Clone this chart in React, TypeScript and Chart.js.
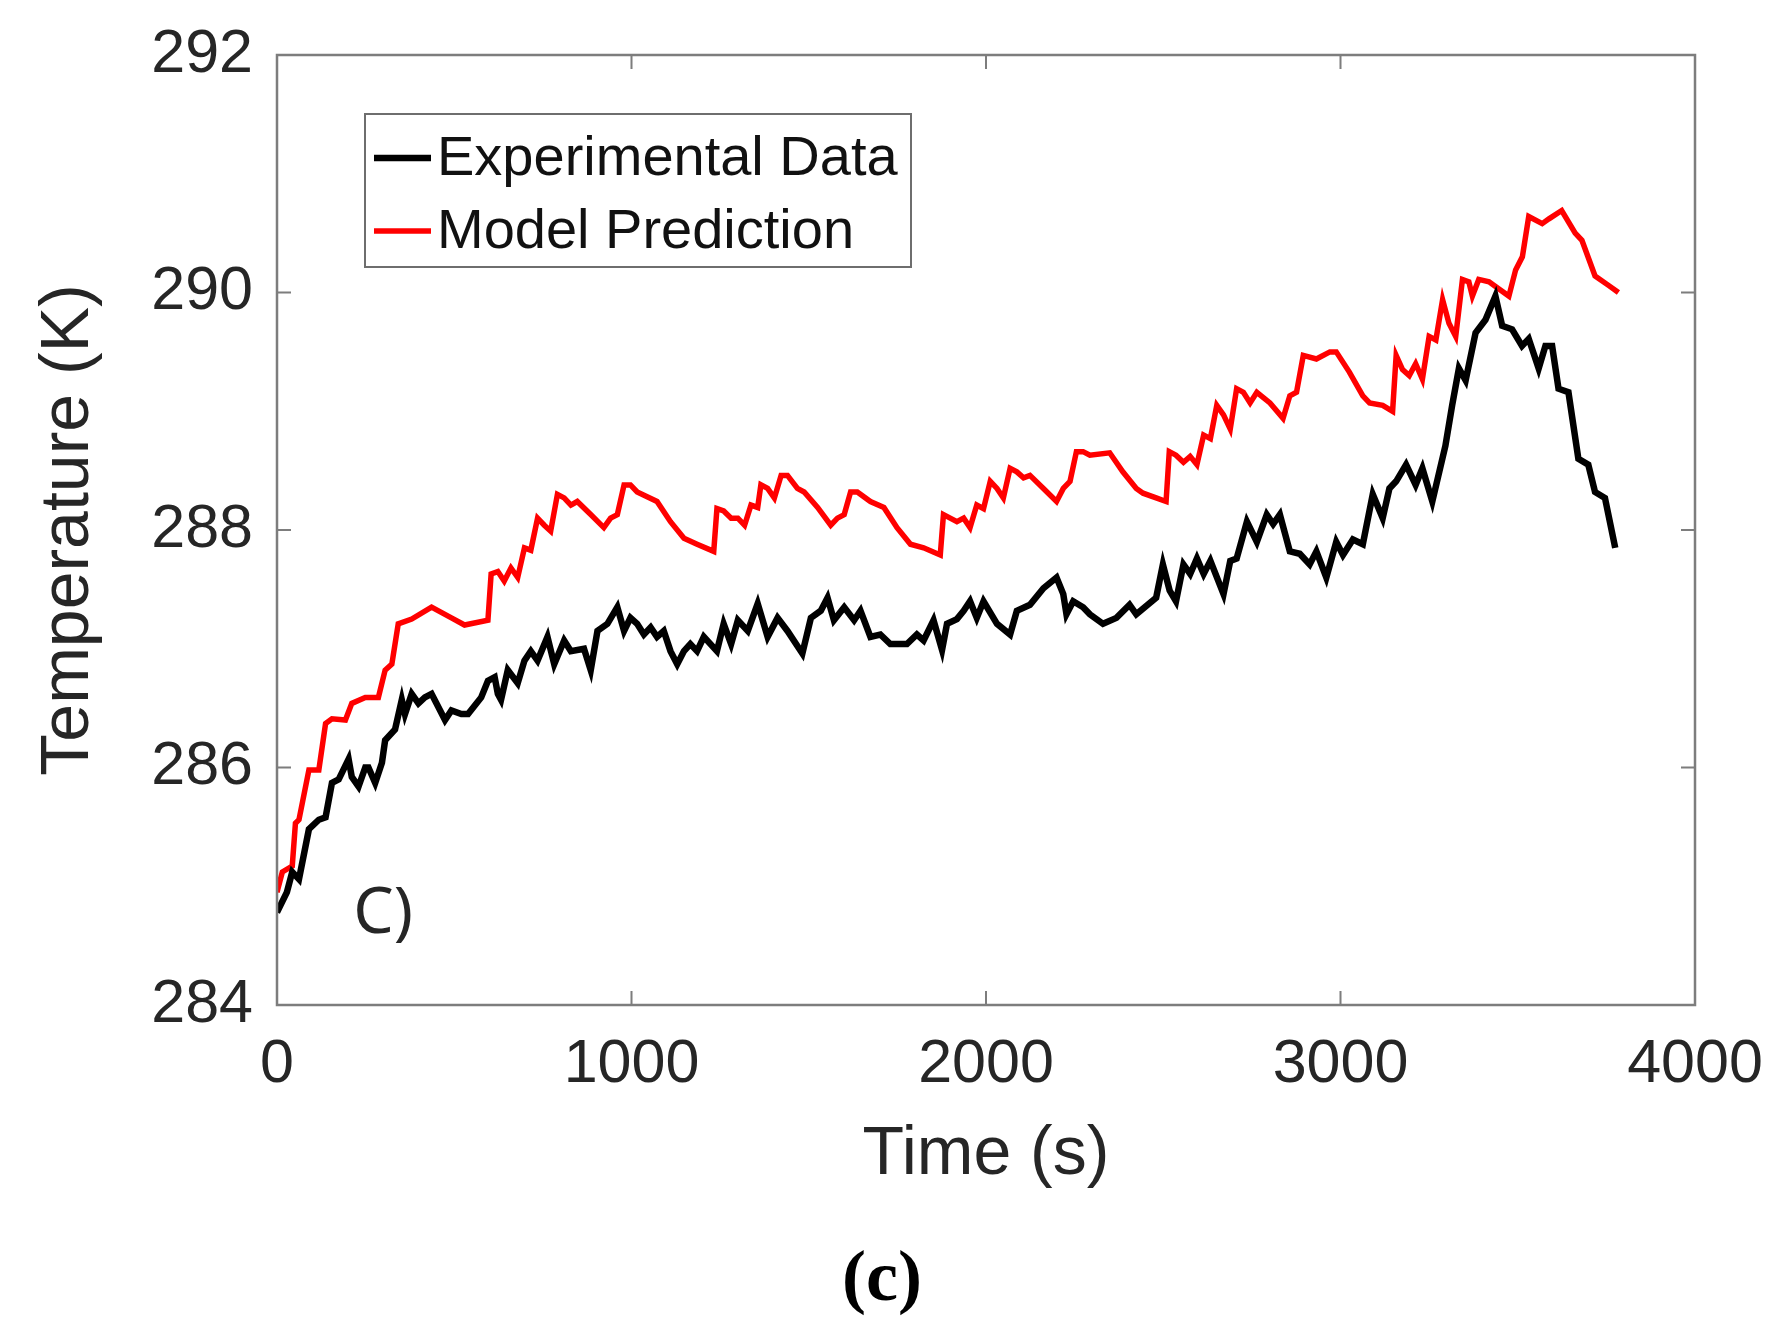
import { useEffect, useRef } from 'react';
import { Chart, registerables } from 'chart.js';

Chart.register(...registerables);

// Experimental Data (black)
const expTime = [
  0, 28, 43, 62, 90, 118, 137, 155, 174, 202,
  211, 230, 249, 258, 277, 296, 305, 333, 352, 361,
  380, 399, 417, 436, 474, 492, 520, 539, 576, 595,
  614, 623, 632, 651, 679, 698, 716, 735, 763, 782,
  810, 829, 866, 885, 904, 932, 960, 979, 997, 1016,
  1035, 1054, 1072, 1091, 1110, 1129, 1148, 1166, 1185, 1204,
  1241, 1260, 1281, 1300, 1328, 1356, 1384, 1412, 1440, 1482,
  1506, 1534, 1553, 1571, 1600, 1628, 1646, 1674, 1702, 1730,
  1777, 1805, 1824, 1852, 1876, 1890, 1918, 1937, 1955, 1974,
  1993, 2031, 2068, 2087, 2124, 2162, 2199, 2218, 2227, 2246,
  2274, 2293, 2330, 2368, 2405, 2424, 2480, 2499, 2518, 2536,
  2557, 2576, 2595, 2614, 2633, 2670, 2689, 2707, 2736, 2764,
  2792, 2810, 2829, 2857, 2885, 2913, 2932, 2960, 2988, 3007,
  3035, 3063, 3091, 3119, 3138, 3157, 3185, 3212, 3231, 3259,
  3296, 3315, 3334, 3353, 3381, 3409, 3437, 3456, 3484, 3512,
  3531, 3559, 3578, 3597, 3615, 3643, 3671, 3699, 3718, 3746, 3775,
];
const expTemp = [
  284.78, 284.95, 285.12, 285.06, 285.48, 285.56, 285.58, 285.87, 285.9, 286.07,
  285.92, 285.84, 286.0, 286.0, 285.87, 286.04, 286.23, 286.32, 286.57, 286.45,
  286.62, 286.54, 286.59, 286.62, 286.4, 286.48, 286.45, 286.45, 286.59, 286.73,
  286.76, 286.62, 286.57, 286.82, 286.71, 286.9, 286.98, 286.9, 287.1, 286.87,
  287.07, 286.98, 287.0, 286.82, 287.15, 287.21, 287.35, 287.15, 287.26, 287.21,
  287.12, 287.18, 287.1, 287.15, 286.98, 286.87, 286.98, 287.04, 286.98, 287.1,
  286.98, 287.21, 287.04, 287.24, 287.15, 287.38, 287.1, 287.26, 287.15, 286.96,
  287.26, 287.32, 287.43, 287.24, 287.35, 287.24, 287.32, 287.1, 287.12, 287.04,
  287.04, 287.12, 287.07, 287.24, 286.99, 287.21, 287.25, 287.32, 287.4, 287.26,
  287.4, 287.21, 287.12, 287.32, 287.37, 287.51, 287.6, 287.46, 287.29, 287.4,
  287.35, 287.29, 287.21, 287.26, 287.37, 287.29, 287.43, 287.71, 287.49, 287.4,
  287.71, 287.63, 287.76, 287.63, 287.74, 287.46, 287.74, 287.76, 288.07, 287.9,
  288.13, 288.05, 288.13, 287.82, 287.8, 287.71, 287.82, 287.6, 287.9, 287.79,
  287.92, 287.88, 288.3, 288.1, 288.35, 288.41, 288.55, 288.38, 288.52, 288.24,
  288.71, 289.05, 289.36, 289.26, 289.66, 289.77, 289.97, 289.72, 289.69, 289.55,
  289.61, 289.36, 289.55, 289.55, 289.19, 289.16, 288.6, 288.55, 288.32, 288.27, 287.85,
];

// Model Prediction (red)
const modelTime = [
  0, 15, 43, 52, 62, 90, 118, 137, 155, 193,
  211, 249, 286, 305, 324, 342, 380, 436, 492, 529,
  595, 604, 623, 641, 660, 679, 698, 716, 735, 754,
  772, 791, 810, 829, 847, 885, 922, 941, 960, 979,
  997, 1016, 1072, 1110, 1148, 1185, 1232, 1241, 1260, 1281,
  1300, 1319, 1337, 1356, 1365, 1384, 1403, 1422, 1440, 1468,
  1487, 1525, 1562, 1581, 1600, 1618, 1637, 1674, 1712, 1749,
  1787, 1824, 1871, 1880, 1899, 1918, 1937, 1955, 1974, 1993,
  2012, 2031, 2049, 2068, 2087, 2106, 2124, 2162, 2199, 2218,
  2237, 2255, 2274, 2293, 2349, 2386, 2424, 2443, 2480, 2508,
  2517, 2536, 2557, 2576, 2595, 2614, 2633, 2651, 2670, 2689,
  2707, 2726, 2745, 2764, 2801, 2838, 2857, 2876, 2895, 2932,
  2970, 2988, 3025, 3063, 3082, 3119, 3147, 3157, 3175, 3194,
  3212, 3231, 3250, 3269, 3288, 3306, 3325, 3344, 3362, 3372,
  3390, 3419, 3447, 3475, 3494, 3513, 3531, 3569, 3588, 3624,
  3662, 3681, 3718, 3756, 3784,
];
const modelTemp = [
  284.95, 285.12, 285.17, 285.53, 285.56, 285.98, 285.98, 286.37, 286.41, 286.4,
  286.54, 286.59, 286.59, 286.82, 286.87, 287.21, 287.25, 287.35, 287.26, 287.2,
  287.24, 287.63, 287.65, 287.57, 287.68, 287.6, 287.85, 287.83, 288.1, 288.04,
  287.99, 288.3, 288.27, 288.21, 288.24, 288.13, 288.02, 288.1, 288.13, 288.38,
  288.38, 288.32, 288.24, 288.07, 287.93, 287.88, 287.82, 288.18, 288.16, 288.1,
  288.1, 288.04, 288.21, 288.19, 288.38, 288.35, 288.27, 288.46, 288.46, 288.35,
  288.32, 288.19, 288.04, 288.1, 288.13, 288.32, 288.32, 288.24, 288.19, 288.02,
  287.88, 287.85, 287.79, 288.13, 288.1, 288.07, 288.1, 288.02, 288.21, 288.18,
  288.41, 288.35, 288.27, 288.52, 288.49, 288.44, 288.46, 288.35, 288.24, 288.35,
  288.41, 288.66, 288.66, 288.63, 288.65, 288.49, 288.35, 288.31, 288.27, 288.24,
  288.66, 288.63, 288.57, 288.62, 288.55, 288.8, 288.77, 289.05, 288.97, 288.85,
  289.19, 289.16, 289.07, 289.16, 289.07, 288.94, 289.13, 289.16, 289.47, 289.44,
  289.5, 289.5, 289.33, 289.13, 289.07, 289.05, 289.0, 289.47, 289.35, 289.3,
  289.4, 289.27, 289.63, 289.6, 289.94, 289.74, 289.63, 290.11, 290.09, 289.97,
  290.11, 290.09, 290.03, 289.97, 290.19, 290.3, 290.64, 290.58, 290.62, 290.69,
  290.5, 290.44, 290.14, 290.06, 290.0,
];

const xTicks = [0, 1000, 2000, 3000, 4000];
const yTicks = [284, 286, 288, 290, 292];

const SANS = '"Liberation Sans", Arial, Helvetica, sans-serif';
const TEXT = '#262626';
const AXIS = '#7d7d7d';

// MATLAB-like box with inward ticks, inner legend and annotations
const framePlugin = {
  id: 'matlabFrame',
  afterDatasetsDraw(chart: any) {
    const { ctx, chartArea: a, scales } = chart;
    const xs = scales.x;
    const ys = scales.y;
    ctx.save();

    // box
    ctx.strokeStyle = AXIS;
    ctx.lineWidth = 2.5;
    ctx.strokeRect(a.left, a.top, a.right - a.left, a.bottom - a.top);

    // inward ticks on all four sides
    const len = 14;
    ctx.lineWidth = 2;
    ctx.beginPath();
    xs.ticks.forEach((t: any) => {
      const px = xs.getPixelForValue(t.value);
      ctx.moveTo(px, a.bottom);
      ctx.lineTo(px, a.bottom - len);
      ctx.moveTo(px, a.top);
      ctx.lineTo(px, a.top + len);
    });
    ys.ticks.forEach((t: any) => {
      const py = ys.getPixelForValue(t.value);
      ctx.moveTo(a.left, py);
      ctx.lineTo(a.left + len, py);
      ctx.moveTo(a.right, py);
      ctx.lineTo(a.right - len, py);
    });
    ctx.stroke();

    // panel mark inside the axes
    ctx.fillStyle = TEXT;
    ctx.font = '64px "Noto Sans", "Open Sans", sans-serif';
    ctx.textAlign = 'left';
    ctx.textBaseline = 'middle';
    ctx.fillText('C)', xs.getPixelForValue(215), ys.getPixelForValue(284.76));

    // legend box
    const lx = a.left + 88;
    const ly = a.top + 59;
    const lw = 546;
    const lh = 153;
    ctx.fillStyle = '#ffffff';
    ctx.fillRect(lx, ly, lw, lh);
    ctx.strokeStyle = '#6e6e6e';
    ctx.lineWidth = 2;
    ctx.strokeRect(lx, ly, lw, lh);
    ctx.font = '56px ' + SANS;
    chart.data.datasets.forEach((ds: any, i: number) => {
      const cy = ly + 44 + i * 73;
      ctx.strokeStyle = ds.borderColor;
      ctx.lineWidth = ds.borderWidth;
      ctx.beginPath();
      ctx.moveTo(lx + 9, cy);
      ctx.lineTo(lx + 66, cy);
      ctx.stroke();
      ctx.fillStyle = '#111111';
      ctx.fillText(ds.label, lx + 72, cy + 2);
    });

    // figure caption
    ctx.fillStyle = '#000000';
    ctx.font = 'bold 72px "Liberation Serif", "Times New Roman", serif';
    ctx.textAlign = 'center';
    ctx.fillText('(c)', 882, 1281);

    ctx.restore();
  },
};

export default function TemperatureChart() {
  const chartRef = useRef<HTMLCanvasElement>(null);
  const chartInstance = useRef<Chart | null>(null);

  useEffect(() => {
    if (!chartRef.current) return;
    const ctx = chartRef.current.getContext('2d');
    if (!ctx) return;

    if (chartInstance.current) {
      chartInstance.current.destroy();
    }

    chartInstance.current = new Chart(ctx, {
      type: 'line',
      data: {
        datasets: [
          {
            label: 'Experimental Data',
            data: expTime.map((t, i) => ({ x: t, y: expTemp[i] })),
            borderColor: '#000000',
            borderWidth: 6.5,
            pointRadius: 0,
            tension: 0,
          },
          {
            label: 'Model Prediction',
            data: modelTime.map((t, i) => ({ x: t, y: modelTemp[i] })),
            borderColor: '#ff0000',
            borderWidth: 5.5,
            pointRadius: 0,
            tension: 0,
          },
        ],
      },
      options: {
        responsive: false,
        animation: false,
        layout: {
          padding: { left: 0, top: 55, right: 95, bottom: 126 },
        },
        plugins: {
          legend: { display: false },
          tooltip: { enabled: false },
        },
        scales: {
          x: {
            type: 'linear',
            min: 0,
            max: 4000,
            afterBuildTicks: (s: any) => {
              s.ticks = xTicks.map((v) => ({ value: v }));
            },
            afterFit: (s: any) => {
              s.height = 200;
              s.paddingLeft = 0;
              s.paddingRight = 0;
            },
            grid: { display: false, drawTicks: false },
            border: { display: false },
            ticks: {
              color: TEXT,
              padding: 24,
              maxRotation: 0,
              callback: (v: any) => String(v),
              font: { family: SANS, size: 61 },
            },
            title: {
              display: true,
              text: 'Time (s)',
              color: TEXT,
              padding: { top: 0, bottom: 9 },
              font: { family: SANS, size: 68 },
            },
          },
          y: {
            type: 'linear',
            min: 284,
            max: 292,
            afterBuildTicks: (s: any) => {
              s.ticks = yTicks.map((v) => ({ value: v }));
            },
            afterFit: (s: any) => {
              s.width = 277;
              s.paddingTop = 0;
              s.paddingBottom = 0;
            },
            grid: { display: false, drawTicks: false },
            border: { display: false },
            ticks: {
              color: TEXT,
              padding: 24,
              callback: (v: any) => String(v),
              font: { family: SANS, size: 61 },
            },
            title: {
              display: true,
              text: 'Temperature (K)',
              color: TEXT,
              padding: { top: 28, bottom: 0 },
              font: { family: SANS, size: 68 },
            },
          },
        },
      },
      plugins: [framePlugin],
    });

    return () => {
      if (chartInstance.current) {
        chartInstance.current.destroy();
        chartInstance.current = null;
      }
    };
  }, []);

  return (
    <div
      style={{
        position: 'absolute',
        left: 0,
        top: 0,
        width: 1790,
        height: 1331,
        background: '#ffffff',
      }}
    >
      <canvas ref={chartRef} width={1790} height={1331} />
    </div>
  );
}
